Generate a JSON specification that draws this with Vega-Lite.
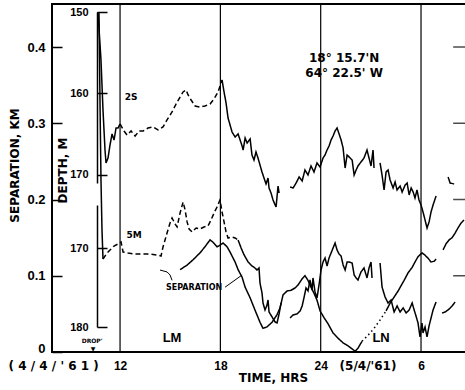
{
"$schema":"https://vega.github.io/schema/vega-lite/v6.json",
"width":414,"height":348,
"autosize":{"type":"none"},
"padding":{"left":52,"top":4,"right":0,"bottom":38},
"background":"white",
"config":{
 "view":{"stroke":"black","strokeWidth":2},
 "axis":{"grid":false,"labelColor":"black","titleColor":"black","tickColor":"black","domainColor":"black","labelFontWeight":"bold","titleFontWeight":"bold","titleFont":"DejaVu Sans","titleFontSize":12},
 "text":{"font":"DejaVu Sans","fontWeight":"bold","color":"black"}
},
"datasets":{
 "sep":[
  {"t":15.59,"s":0.108,"seg":1,"style":"solid"},{"t":16.01,"s":0.114,"seg":1,"style":"solid"},{"t":16.37,"s":0.121,"seg":1,"style":"solid"},{"t":16.78,"s":0.130,"seg":1,"style":"solid"},{"t":17.08,"s":0.138,"seg":1,"style":"solid"},{"t":17.38,"s":0.147,"seg":1,"style":"solid"},{"t":17.56,"s":0.144,"seg":1,"style":"solid"},{"t":17.80,"s":0.138,"seg":1,"style":"solid"},{"t":17.98,"s":0.140,"seg":1,"style":"solid"},{"t":18.16,"s":0.143,"seg":1,"style":"solid"},{"t":18.40,"s":0.138,"seg":1,"style":"solid"},{"t":18.58,"s":0.131,"seg":1,"style":"solid"},{"t":18.88,"s":0.118,"seg":1,"style":"solid"},{"t":19.06,"s":0.108,"seg":1,"style":"solid"},{"t":19.30,"s":0.098,"seg":1,"style":"solid"},{"t":19.48,"s":0.085,"seg":1,"style":"solid"},{"t":19.78,"s":0.071,"seg":1,"style":"solid"},{"t":20.07,"s":0.055,"seg":1,"style":"solid"},{"t":20.37,"s":0.039,"seg":1,"style":"solid"},{"t":20.55,"s":0.031,"seg":1,"style":"solid"},{"t":20.79,"s":0.033,"seg":1,"style":"solid"},{"t":21.09,"s":0.039,"seg":1,"style":"solid"},{"t":21.39,"s":0.049,"seg":1,"style":"solid"},{"t":21.57,"s":0.058,"seg":1,"style":"solid"},{"t":21.75,"s":0.075,"seg":1,"style":"solid"},{"t":21.99,"s":0.080,"seg":1,"style":"solid"},{"t":22.23,"s":0.081,"seg":1,"style":"solid"},{"t":22.47,"s":0.084,"seg":1,"style":"solid"},{"t":22.65,"s":0.088,"seg":1,"style":"solid"},{"t":22.89,"s":0.096,"seg":1,"style":"solid"},{"t":23.06,"s":0.100,"seg":1,"style":"solid"},{"t":23.24,"s":0.094,"seg":1,"style":"solid"},{"t":23.42,"s":0.085,"seg":1,"style":"solid"},{"t":23.60,"s":0.077,"seg":1,"style":"solid"},{"t":23.78,"s":0.068,"seg":1,"style":"solid"},{"t":23.96,"s":0.054,"seg":1,"style":"solid"},{"t":24.20,"s":0.045,"seg":1,"style":"solid"},{"t":24.44,"s":0.037,"seg":1,"style":"solid"},{"t":24.74,"s":0.025,"seg":1,"style":"solid"},{"t":25.04,"s":0.018,"seg":1,"style":"solid"},{"t":25.34,"s":0.012,"seg":1,"style":"solid"},{"t":25.64,"s":0.008,"seg":1,"style":"solid"},{"t":25.88,"s":0.004,"seg":1,"style":"solid"},{"t":26.06,"s":0.001,"seg":1,"style":"solid"},{"t":26.23,"s":0.005,"seg":1,"style":"solid"},{"t":26.47,"s":0.014,"seg":1,"style":"solid"},
  {"t":26.47,"s":0.014,"seg":2,"style":"dotted"},{"t":26.83,"s":0.022,"seg":2,"style":"dotted"},{"t":27.19,"s":0.031,"seg":2,"style":"dotted"},{"t":27.55,"s":0.042,"seg":2,"style":"dotted"},{"t":27.91,"s":0.054,"seg":2,"style":"dotted"},
  {"t":27.91,"s":0.054,"seg":3,"style":"solid"},{"t":28.15,"s":0.064,"seg":3,"style":"solid"},{"t":28.39,"s":0.072,"seg":3,"style":"solid"},{"t":28.63,"s":0.080,"seg":3,"style":"solid"},{"t":28.81,"s":0.087,"seg":3,"style":"solid"},{"t":28.99,"s":0.094,"seg":3,"style":"solid"},{"t":29.23,"s":0.104,"seg":3,"style":"solid"},{"t":29.47,"s":0.111,"seg":3,"style":"solid"},{"t":29.64,"s":0.118,"seg":3,"style":"solid"},{"t":29.82,"s":0.125,"seg":3,"style":"solid"},{"t":30.06,"s":0.130,"seg":3,"style":"solid"},{"t":30.24,"s":0.127,"seg":3,"style":"solid"},{"t":30.42,"s":0.123,"seg":3,"style":"solid"},{"t":30.60,"s":0.118,"seg":3,"style":"solid"},{"t":30.78,"s":0.119,"seg":3,"style":"solid"},{"t":30.90,"s":0.122,"seg":3,"style":"solid"},
  {"t":31.32,"s":0.134,"seg":4,"style":"solid"},{"t":31.50,"s":0.142,"seg":4,"style":"solid"},{"t":31.68,"s":0.147,"seg":4,"style":"solid"},{"t":31.86,"s":0.150,"seg":4,"style":"solid"},{"t":32.04,"s":0.156,"seg":4,"style":"solid"},{"t":32.22,"s":0.163,"seg":4,"style":"solid"},{"t":32.39,"s":0.169,"seg":4,"style":"solid"},{"t":32.57,"s":0.173,"seg":4,"style":"solid"}
 ],
 "s2":[
  {"t":10.68,"d":150.0,"seg":1,"style":"solid"},{"t":10.86,"d":155.9,"seg":1,"style":"solid"},{"t":10.98,"d":162.04,"seg":1,"style":"solid"},{"t":11.10,"d":166.95,"seg":1,"style":"solid"},{"t":11.16,"d":168.54,"seg":1,"style":"solid"},{"t":11.28,"d":167.93,"seg":1,"style":"solid"},{"t":11.40,"d":166.33,"seg":1,"style":"solid"},{"t":11.52,"d":164.98,"seg":1,"style":"solid"},{"t":11.64,"d":165.72,"seg":1,"style":"solid"},{"t":11.76,"d":164.25,"seg":1,"style":"solid"},{"t":11.88,"d":164.25,"seg":1,"style":"solid"},{"t":12.00,"d":163.75,"seg":1,"style":"solid"},
  {"t":12.00,"d":163.75,"seg":2,"style":"dashed"},{"t":12.24,"d":164.61,"seg":2,"style":"dashed"},{"t":12.42,"d":165.11,"seg":2,"style":"dashed"},{"t":12.66,"d":164.61,"seg":2,"style":"dashed"},{"t":12.90,"d":165.23,"seg":2,"style":"dashed"},{"t":13.14,"d":164.61,"seg":2,"style":"dashed"},{"t":13.38,"d":164.61,"seg":2,"style":"dashed"},{"t":13.67,"d":164.25,"seg":2,"style":"dashed"},{"t":13.97,"d":164.12,"seg":2,"style":"dashed"},{"t":14.27,"d":164.49,"seg":2,"style":"dashed"},{"t":14.57,"d":164.12,"seg":2,"style":"dashed"},{"t":14.81,"d":163.26,"seg":2,"style":"dashed"},{"t":15.11,"d":162.28,"seg":2,"style":"dashed"},{"t":15.35,"d":161.30,"seg":2,"style":"dashed"},{"t":15.59,"d":160.44,"seg":2,"style":"dashed"},{"t":15.77,"d":159.82,"seg":2,"style":"dashed"},{"t":15.95,"d":159.58,"seg":2,"style":"dashed"},{"t":16.07,"d":160.19,"seg":2,"style":"dashed"},{"t":16.25,"d":160.81,"seg":2,"style":"dashed"},{"t":16.49,"d":161.54,"seg":2,"style":"dashed"},{"t":16.78,"d":161.67,"seg":2,"style":"dashed"},{"t":17.08,"d":161.54,"seg":2,"style":"dashed"},{"t":17.38,"d":161.30,"seg":2,"style":"dashed"},{"t":17.62,"d":160.68,"seg":2,"style":"dashed"},{"t":17.86,"d":159.82,"seg":2,"style":"dashed"},{"t":18.10,"d":158.35,"seg":2,"style":"dashed"},
  {"t":18.10,"d":158.35,"seg":3,"style":"solid"},{"t":18.22,"d":159.82,"seg":3,"style":"solid"},{"t":18.34,"d":161.18,"seg":3,"style":"solid"},{"t":18.46,"d":163.02,"seg":3,"style":"solid"},{"t":18.58,"d":163.88,"seg":3,"style":"solid"},{"t":18.70,"d":164.74,"seg":3,"style":"solid"},{"t":18.88,"d":165.35,"seg":3,"style":"solid"},{"t":19.06,"d":164.98,"seg":3,"style":"solid"},{"t":19.18,"d":165.72,"seg":3,"style":"solid"},{"t":19.30,"d":166.46,"seg":3,"style":"solid"},{"t":19.36,"d":166.95,"seg":3,"style":"solid"},{"t":19.48,"d":165.47,"seg":3,"style":"solid"},{"t":19.60,"d":166.09,"seg":3,"style":"solid"},{"t":19.78,"d":165.60,"seg":3,"style":"solid"},{"t":19.89,"d":167.56,"seg":3,"style":"solid"},{"t":20.01,"d":168.18,"seg":3,"style":"solid"},{"t":20.13,"d":167.19,"seg":3,"style":"solid"},{"t":20.25,"d":167.93,"seg":3,"style":"solid"},{"t":20.37,"d":168.79,"seg":3,"style":"solid"},{"t":20.49,"d":169.65,"seg":3,"style":"solid"},{"t":20.61,"d":170.39,"seg":3,"style":"solid"},{"t":20.73,"d":171.12,"seg":3,"style":"solid"},{"t":20.85,"d":170.39,"seg":3,"style":"solid"},{"t":20.91,"d":171.61,"seg":3,"style":"solid"},{"t":21.03,"d":172.23,"seg":3,"style":"solid"},{"t":21.15,"d":173.09,"seg":3,"style":"solid"},{"t":21.33,"d":173.95,"seg":3,"style":"solid"},{"t":21.45,"d":171.37,"seg":3,"style":"solid"},{"t":21.51,"d":172.23,"seg":3,"style":"solid"},
  {"t":22.17,"d":171.49,"seg":4,"style":"solid"},{"t":22.35,"d":171.61,"seg":4,"style":"solid"},{"t":22.53,"d":171.00,"seg":4,"style":"solid"},{"t":22.71,"d":170.26,"seg":4,"style":"solid"},{"t":22.89,"d":170.75,"seg":4,"style":"solid"},{"t":23.06,"d":169.40,"seg":4,"style":"solid"},{"t":23.24,"d":170.02,"seg":4,"style":"solid"},{"t":23.42,"d":168.91,"seg":4,"style":"solid"},{"t":23.60,"d":169.65,"seg":4,"style":"solid"},{"t":23.78,"d":168.54,"seg":4,"style":"solid"},{"t":23.96,"d":169.04,"seg":4,"style":"solid"},{"t":24.14,"d":167.93,"seg":4,"style":"solid"},{"t":24.26,"d":167.56,"seg":4,"style":"solid"},{"t":24.38,"d":166.95,"seg":4,"style":"solid"},{"t":24.50,"d":166.46,"seg":4,"style":"solid"},{"t":24.62,"d":165.72,"seg":4,"style":"solid"},{"t":24.74,"d":165.23,"seg":4,"style":"solid"},{"t":24.86,"d":164.61,"seg":4,"style":"solid"},{"t":24.98,"d":164.25,"seg":4,"style":"solid"},{"t":25.10,"d":164.98,"seg":4,"style":"solid"},{"t":25.22,"d":165.72,"seg":4,"style":"solid"},{"t":25.34,"d":166.70,"seg":4,"style":"solid"},{"t":25.46,"d":169.16,"seg":4,"style":"solid"},{"t":25.58,"d":167.56,"seg":4,"style":"solid"},{"t":25.76,"d":167.93,"seg":4,"style":"solid"},{"t":25.88,"d":168.18,"seg":4,"style":"solid"},{"t":26.00,"d":170.02,"seg":4,"style":"solid"},{"t":26.12,"d":169.40,"seg":4,"style":"solid"},{"t":26.23,"d":168.91,"seg":4,"style":"solid"},{"t":26.41,"d":168.42,"seg":4,"style":"solid"},{"t":26.59,"d":167.93,"seg":4,"style":"solid"},{"t":26.77,"d":166.95,"seg":4,"style":"solid"},{"t":26.89,"d":167.93,"seg":4,"style":"solid"},{"t":27.01,"d":168.91,"seg":4,"style":"solid"},{"t":27.13,"d":166.95,"seg":4,"style":"solid"},{"t":27.19,"d":169.16,"seg":4,"style":"solid"},
  {"t":27.55,"d":168.54,"seg":5,"style":"solid"},{"t":27.67,"d":170.02,"seg":5,"style":"solid"},{"t":27.79,"d":171.86,"seg":5,"style":"solid"},{"t":27.91,"d":169.65,"seg":5,"style":"solid"},{"t":28.03,"d":169.40,"seg":5,"style":"solid"},{"t":28.15,"d":170.63,"seg":5,"style":"solid"},{"t":28.33,"d":171.61,"seg":5,"style":"solid"},{"t":28.45,"d":170.88,"seg":5,"style":"solid"},{"t":28.57,"d":171.86,"seg":5,"style":"solid"},{"t":28.75,"d":171.37,"seg":5,"style":"solid"},{"t":28.87,"d":172.11,"seg":5,"style":"solid"},{"t":29.05,"d":171.25,"seg":5,"style":"solid"},{"t":29.17,"d":171.00,"seg":5,"style":"solid"},{"t":29.29,"d":172.47,"seg":5,"style":"solid"},{"t":29.41,"d":171.61,"seg":5,"style":"solid"},{"t":29.53,"d":172.11,"seg":5,"style":"solid"},{"t":29.64,"d":172.84,"seg":5,"style":"solid"},{"t":29.76,"d":171.86,"seg":5,"style":"solid"},{"t":29.88,"d":173.09,"seg":5,"style":"solid"},{"t":30.00,"d":173.70,"seg":5,"style":"solid"},{"t":30.12,"d":174.56,"seg":5,"style":"solid"},{"t":30.24,"d":175.54,"seg":5,"style":"solid"},{"t":30.36,"d":176.53,"seg":5,"style":"solid"},{"t":30.48,"d":175.79,"seg":5,"style":"solid"},{"t":30.60,"d":174.56,"seg":5,"style":"solid"},{"t":30.72,"d":173.70,"seg":5,"style":"solid"},{"t":30.90,"d":172.60,"seg":5,"style":"solid"},
  {"t":31.62,"d":170.26,"seg":6,"style":"solid"},{"t":31.74,"d":171.00,"seg":6,"style":"solid"},{"t":31.98,"d":171.12,"seg":6,"style":"solid"}
 ],
 "m5":[
  {"t":10.74,"d":140.0,"seg":1,"style":"solid"},{"t":10.80,"d":151.16,"seg":1,"style":"solid"},{"t":10.86,"d":161.32,"seg":1,"style":"solid"},{"t":10.92,"d":167.67,"seg":1,"style":"solid"},{"t":10.98,"d":171.36,"seg":1,"style":"solid"},
  {"t":10.98,"d":171.36,"seg":2,"style":"dashed"},{"t":11.22,"d":170.60,"seg":2,"style":"dashed"},{"t":11.40,"d":170.22,"seg":2,"style":"dashed"},{"t":11.64,"d":169.71,"seg":2,"style":"dashed"},{"t":11.88,"d":169.45,"seg":2,"style":"dashed"},{"t":12.06,"d":169.20,"seg":2,"style":"dashed"},{"t":12.18,"d":170.47,"seg":2,"style":"dashed"},{"t":12.48,"d":170.60,"seg":2,"style":"dashed"},{"t":12.90,"d":170.73,"seg":2,"style":"dashed"},{"t":13.32,"d":170.73,"seg":2,"style":"dashed"},{"t":13.79,"d":170.73,"seg":2,"style":"dashed"},{"t":14.21,"d":170.85,"seg":2,"style":"dashed"},{"t":14.45,"d":170.98,"seg":2,"style":"dashed"},{"t":14.57,"d":169.83,"seg":2,"style":"dashed"},{"t":14.69,"d":168.95,"seg":2,"style":"dashed"},{"t":14.81,"d":168.06,"seg":2,"style":"dashed"},{"t":14.99,"d":166.78,"seg":2,"style":"dashed"},{"t":15.11,"d":166.15,"seg":2,"style":"dashed"},{"t":15.29,"d":166.91,"seg":2,"style":"dashed"},{"t":15.41,"d":167.29,"seg":2,"style":"dashed"},{"t":15.59,"d":165.52,"seg":2,"style":"dashed"},{"t":15.77,"d":164.12,"seg":2,"style":"dashed"},{"t":15.89,"d":165.13,"seg":2,"style":"dashed"},{"t":16.01,"d":166.65,"seg":2,"style":"dashed"},{"t":16.13,"d":167.55,"seg":2,"style":"dashed"},{"t":16.31,"d":167.93,"seg":2,"style":"dashed"},{"t":16.55,"d":167.42,"seg":2,"style":"dashed"},{"t":16.78,"d":167.55,"seg":2,"style":"dashed"},{"t":17.02,"d":167.29,"seg":2,"style":"dashed"},{"t":17.26,"d":167.17,"seg":2,"style":"dashed"},{"t":17.44,"d":166.40,"seg":2,"style":"dashed"},{"t":17.62,"d":165.52,"seg":2,"style":"dashed"},{"t":17.80,"d":164.75,"seg":2,"style":"dashed"},{"t":17.98,"d":163.86,"seg":2,"style":"dashed"},{"t":18.10,"d":165.39,"seg":2,"style":"dashed"},{"t":18.22,"d":166.65,"seg":2,"style":"dashed"},{"t":18.34,"d":167.93,"seg":2,"style":"dashed"},{"t":18.46,"d":168.69,"seg":2,"style":"dashed"},{"t":18.70,"d":168.56,"seg":2,"style":"dashed"},{"t":18.88,"d":168.69,"seg":2,"style":"dashed"},{"t":19.06,"d":168.95,"seg":2,"style":"dashed"},
  {"t":19.06,"d":168.95,"seg":3,"style":"solid"},{"t":19.24,"d":169.96,"seg":3,"style":"solid"},{"t":19.42,"d":170.85,"seg":3,"style":"solid"},{"t":19.66,"d":171.74,"seg":3,"style":"solid"},{"t":19.89,"d":172.25,"seg":3,"style":"solid"},{"t":20.07,"d":172.50,"seg":3,"style":"solid"},{"t":20.19,"d":172.76,"seg":3,"style":"solid"},{"t":20.31,"d":172.50,"seg":3,"style":"solid"},{"t":20.37,"d":174.41,"seg":3,"style":"solid"},{"t":20.49,"d":175.68,"seg":3,"style":"solid"},{"t":20.55,"d":176.95,"seg":3,"style":"solid"},{"t":20.67,"d":177.84,"seg":3,"style":"solid"},{"t":20.79,"d":177.20,"seg":3,"style":"solid"},{"t":20.85,"d":176.57,"seg":3,"style":"solid"},{"t":20.91,"d":178.09,"seg":3,"style":"solid"},{"t":21.09,"d":178.72,"seg":3,"style":"solid"},{"t":21.27,"d":179.36,"seg":3,"style":"solid"},{"t":21.39,"d":179.49,"seg":3,"style":"solid"},{"t":21.51,"d":178.34,"seg":3,"style":"solid"},{"t":21.63,"d":176.95,"seg":3,"style":"solid"},
  {"t":22.17,"d":178.85,"seg":4,"style":"solid"},{"t":22.35,"d":178.47,"seg":4,"style":"solid"},{"t":22.59,"d":178.34,"seg":4,"style":"solid"},{"t":22.77,"d":177.96,"seg":4,"style":"solid"},{"t":22.89,"d":177.33,"seg":4,"style":"solid"},{"t":23.01,"d":176.19,"seg":4,"style":"solid"},{"t":23.12,"d":175.04,"seg":4,"style":"solid"},{"t":23.24,"d":175.42,"seg":4,"style":"solid"},{"t":23.36,"d":174.03,"seg":4,"style":"solid"},{"t":23.48,"d":175.30,"seg":4,"style":"solid"},{"t":23.54,"d":173.77,"seg":4,"style":"solid"},{"t":23.66,"d":175.55,"seg":4,"style":"solid"},{"t":23.78,"d":176.31,"seg":4,"style":"solid"},{"t":23.90,"d":174.66,"seg":4,"style":"solid"},{"t":24.02,"d":172.76,"seg":4,"style":"solid"},{"t":24.14,"d":171.74,"seg":4,"style":"solid"},{"t":24.26,"d":171.23,"seg":4,"style":"solid"},{"t":24.38,"d":172.25,"seg":4,"style":"solid"},{"t":24.50,"d":171.23,"seg":4,"style":"solid"},{"t":24.62,"d":170.60,"seg":4,"style":"solid"},{"t":24.74,"d":169.96,"seg":4,"style":"solid"},{"t":24.86,"d":169.33,"seg":4,"style":"solid"},{"t":24.98,"d":170.22,"seg":4,"style":"solid"},{"t":25.10,"d":170.73,"seg":4,"style":"solid"},{"t":25.22,"d":170.98,"seg":4,"style":"solid"},{"t":25.34,"d":172.12,"seg":4,"style":"solid"},{"t":25.46,"d":172.76,"seg":4,"style":"solid"},{"t":25.58,"d":171.74,"seg":4,"style":"solid"},{"t":25.70,"d":171.74,"seg":4,"style":"solid"},{"t":25.88,"d":171.87,"seg":4,"style":"solid"},{"t":26.00,"d":173.39,"seg":4,"style":"solid"},{"t":26.12,"d":173.77,"seg":4,"style":"solid"},{"t":26.23,"d":174.03,"seg":4,"style":"solid"},{"t":26.41,"d":173.01,"seg":4,"style":"solid"},{"t":26.59,"d":172.50,"seg":4,"style":"solid"},{"t":26.77,"d":173.77,"seg":4,"style":"solid"},{"t":26.89,"d":172.50,"seg":4,"style":"solid"},{"t":27.01,"d":171.74,"seg":4,"style":"solid"},{"t":27.07,"d":173.77,"seg":4,"style":"solid"},
  {"t":27.55,"d":171.87,"seg":5,"style":"solid"},{"t":27.67,"d":174.92,"seg":5,"style":"solid"},{"t":27.85,"d":176.19,"seg":5,"style":"solid"},{"t":28.03,"d":176.95,"seg":5,"style":"solid"},{"t":28.21,"d":176.57,"seg":5,"style":"solid"},{"t":28.39,"d":178.09,"seg":5,"style":"solid"},{"t":28.57,"d":177.33,"seg":5,"style":"solid"},{"t":28.75,"d":178.09,"seg":5,"style":"solid"},{"t":28.93,"d":177.58,"seg":5,"style":"solid"},{"t":29.11,"d":178.22,"seg":5,"style":"solid"},{"t":29.29,"d":177.84,"seg":5,"style":"solid"},{"t":29.47,"d":176.95,"seg":5,"style":"solid"},{"t":29.59,"d":177.84,"seg":5,"style":"solid"},{"t":29.70,"d":178.60,"seg":5,"style":"solid"},{"t":29.82,"d":179.49,"seg":5,"style":"solid"},{"t":29.94,"d":181.26,"seg":5,"style":"solid"},{"t":30.06,"d":179.49,"seg":5,"style":"solid"},{"t":30.12,"d":180.75,"seg":5,"style":"solid"},{"t":30.24,"d":179.99,"seg":5,"style":"solid"},{"t":30.36,"d":181.26,"seg":5,"style":"solid"},{"t":30.48,"d":179.87,"seg":5,"style":"solid"},{"t":30.60,"d":178.85,"seg":5,"style":"solid"},{"t":30.72,"d":177.84,"seg":5,"style":"solid"},{"t":30.90,"d":176.82,"seg":5,"style":"solid"},
  {"t":31.26,"d":178.22,"seg":6,"style":"solid"},{"t":31.44,"d":178.09,"seg":6,"style":"solid"},{"t":31.62,"d":177.84,"seg":6,"style":"solid"},{"t":31.86,"d":177.33,"seg":6,"style":"solid"},{"t":32.04,"d":176.82,"seg":6,"style":"solid"}
 ]
},
"encoding":{
 "x":{"field":"t","type":"quantitative","scale":{"domain":[7.93,32.69],"nice":false,"zero":false},
  "axis":{"values":[8,12,18,24,26.8,30],
   "labelExpr":"datum.value==8?\"( 4 / 4 / ' 6 1 )\":datum.value==26.8?\"(5/4/'61)\":datum.value==30?\"6\":datum.label",
   "labelFont":{"condition":{"test":"datum.value==8||datum.value==26.8","value":"DejaVu Sans"},"value":"Liberation Sans"},
   "labelFontSize":12,
   "labelFlush":false,"labelOverlap":false,"labelPadding":8,"ticks":false,"domain":false,
   "title":"TIME, HRS","titleX":221,"titleY":25,"titleAlign":"center","titleBaseline":"middle"}}
},
"layer":[
 {"data":{"values":[{"t":12},{"t":18},{"t":24},{"t":30}]},"mark":{"type":"rule","color":"black","strokeWidth":1.2},"encoding":{}},
 {
  "encoding":{"y":{"field":"s","type":"quantitative","scale":{"domain":[0,0.4564],"nice":false,"zero":false},
   "axis":{"orient":"left","values":[0,0.1,0.2,0.3,0.4],"labelExpr":"datum.value==0?'0':format(datum.value,'.1f')","labelFont":"Liberation Sans","labelFontSize":13,"tickSize":-10,"tickWidth":1.5,"labelPadding":17,"domain":false,
    "labelOffset":{"condition":{"test":"datum.value==0","value":-4},"value":0},
    "title":"SEPARATION, KM","titleX":-38,"titleY":161,"titleAngle":-90,"titleAlign":"center","titleBaseline":"middle"}}},
  "layer":[
   {"data":{"name":"sep"},"mark":{"type":"line","color":"black","strokeWidth":1.5},
    "encoding":{"detail":{"field":"seg","type":"nominal"},"strokeDash":{"field":"style","type":"nominal","scale":{"domain":["solid","dashed","dotted"],"range":[[1,0],[5,3],[1.5,3]]},"legend":null}}},
   {"data":{"values":[{"t":14.39,"s":0.1075,"seg":1},{"t":14.81,"s":0.105,"seg":1},{"t":14.99,"s":0.101,"seg":1},{"t":15.11,"s":0.094,"seg":1},{"t":18.28,"s":0.085,"seg":2},{"t":19.30,"s":0.101,"seg":2}]},
    "mark":{"type":"line","color":"black","strokeWidth":1},"encoding":{"detail":{"field":"seg","type":"nominal"}}},
   {"data":{"values":[{"t":32.28,"s":0.1},{"t":32.28,"s":0.2},{"t":32.28,"s":0.3},{"t":32.28,"s":0.4}]},
    "mark":{"type":"tick","orient":"horizontal","size":12,"thickness":1.5,"color":"black"}},
   {"data":{"values":[{"t":25.40,"s":0.3855,"label":"18° 15.7'N"},{"t":25.40,"s":0.3655,"label":"64° 22.5' W"}]},
    "mark":{"type":"text","fontSize":12,"align":"center","baseline":"middle"},"encoding":{"text":{"field":"label"}}},
   {"data":{"values":[{"t":15.11,"s":0.018,"label":"LM"},{"t":27.61,"s":0.019,"label":"LN"}]},
    "mark":{"type":"text","font":"Liberation Sans","fontSize":13,"align":"center","baseline":"middle"},"encoding":{"text":{"field":"label"}}},
   {"data":{"values":[{"t":12.66,"s":0.334,"label":"2S"},{"t":12.84,"s":0.153,"label":"5M"}]},
    "mark":{"type":"text","fontSize":9,"align":"center","baseline":"middle"},"encoding":{"text":{"field":"label"}}},
   {"data":{"values":[{"t":16.43,"s":0.084,"label":"SEPARATION"}]},
    "mark":{"type":"text","fontSize":8,"align":"center","baseline":"middle"},"encoding":{"text":{"field":"label"}}},
   {"data":{"values":[{"t":10.33,"s":0.0145,"label":"DROP'"},{"t":10.39,"s":0.004,"label":"▼"}]},
    "mark":{"type":"text","fontSize":6,"align":"center","baseline":"middle"},"encoding":{"text":{"field":"label"}}}
  ]
 },
 {"data":{"name":"s2"},"mark":{"type":"line","color":"black","strokeWidth":1.5},
  "encoding":{"y":{"field":"d","type":"quantitative","scale":{"domain":[150,171],"range":[8,179],"nice":false,"zero":false},
   "axis":{"orient":"left","offset":-45,"values":[150,160,170],"labelFont":"Liberation Sans","labelFontSize":11,"tickSize":-10,"tickWidth":1.5,"labelPadding":19,"domain":true,"domainWidth":1.5,
    "title":"DEPTH, M","titleX":-35,"titleY":166,"titleAngle":-90,"titleAlign":"center","titleBaseline":"middle"}},
   "detail":{"field":"seg","type":"nominal"},
   "strokeDash":{"field":"style","type":"nominal","scale":{"domain":["solid","dashed","dotted"],"range":[[1,0],[5,3],[1.5,3]]},"legend":null}}},
 {"data":{"name":"m5"},"mark":{"type":"line","color":"black","strokeWidth":1.5},
  "encoding":{"y":{"field":"d","type":"quantitative","scale":{"domain":[164.5,180],"range":[201,323],"nice":false,"zero":false},
   "axis":{"orient":"left","offset":-45,"values":[170,180],"labelFont":"Liberation Sans","labelFontSize":11,"tickSize":-10,"tickWidth":1.5,"labelPadding":19,"domain":true,"domainWidth":1.5,"title":null}},
   "detail":{"field":"seg","type":"nominal"},
   "strokeDash":{"field":"style","type":"nominal","scale":{"domain":["solid","dashed","dotted"],"range":[[1,0],[5,3],[1.5,3]]},"legend":null}}}
],
"resolve":{"scale":{"y":"independent"}}
}
